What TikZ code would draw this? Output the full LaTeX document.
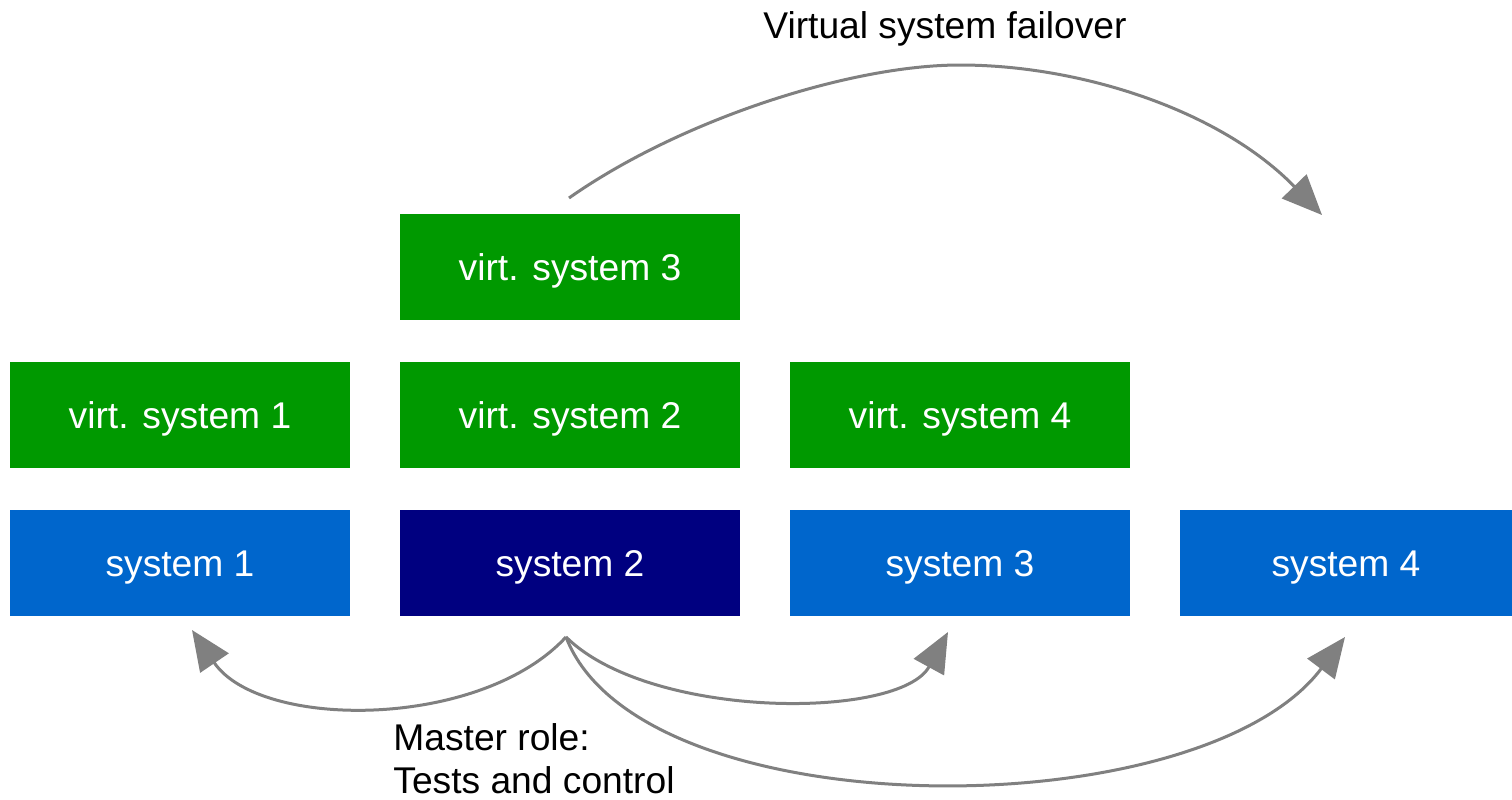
\documentclass[tikz,border=0pt]{standalone}
\usepackage{fontspec}
\setmainfont{Liberation Sans}
\usetikzlibrary{arrows.meta}
\definecolor{vgreen}{HTML}{009900}
\definecolor{sblue}{HTML}{0066CC}
\definecolor{snavy}{HTML}{000080}
\definecolor{arrowgray}{HTML}{808080}
\begin{document}
\begin{tikzpicture}[x=0.5pt,y=-0.5pt,
  box/.style={minimum width=170pt,minimum height=53pt,inner sep=0pt,
    text height=13.5pt,text depth=0pt,
    text=white,font=\fontsize{18.6pt}{22pt}\selectfont},
  virtbox/.style={box,fill=vgreen},
  sysbox/.style={box,fill=sblue},
  masterbox/.style={box,fill=snavy},
  link/.style={draw=arrowgray,line width=1.5pt,
    -{Triangle[length=20pt,width=17pt]}},
  label/.style={inner sep=0pt,font=\fontsize{18.6pt}{21.5pt}\selectfont}]
\useasboundingbox[fill=white] (0,0) rectangle (1512,799);

% virtual systems
\node[virtbox] (v3) at (570,266.5) {virt. system 3};
\node[virtbox] (v1) at (180,415) {virt. system 1};
\node[virtbox] (v2) at (570,415) {virt. system 2};
\node[virtbox] (v4) at (960,415) {virt. system 4};

% physical systems
\node[sysbox]    (s1) at (180,563) {system 1};
\node[masterbox] (s2) at (570,563) {system 2};
\node[sysbox]    (s3) at (960,563) {system 3};
\node[sysbox,minimum width=166pt] (s4) at (1346,563) {system 4};

% connector ends
\coordinate (fstart) at (569,198);
\coordinate (fpeak)  at (960,65);
\coordinate (fend)   at (1322,215);
\coordinate (mstart) at (566,637);
\coordinate (t1) at (192,630);
\coordinate (t3) at (948,632);
\coordinate (t4) at (1345,637);

% failover arrow
\draw[link] (fstart) .. controls (680,120) and (850,65) .. (fpeak)
  .. controls (1080,65) and (1220,110) .. (fend);
\node[label,anchor=base west] (ftext) at (763,38) {Virtual system failover};

% master role arrows
\draw[link] (mstart) .. controls (480,730) and (260,730) .. (t1);
\draw[link] (mstart) .. controls (650,720) and (900,720) .. (t3);
\draw[link] (mstart) .. controls (640,830) and (1200,830) .. (t4);

\node[label,anchor=north west,align=left] (mtext) at (393,723)
  {Master role:\\Tests and control};
\end{tikzpicture}
\end{document}
